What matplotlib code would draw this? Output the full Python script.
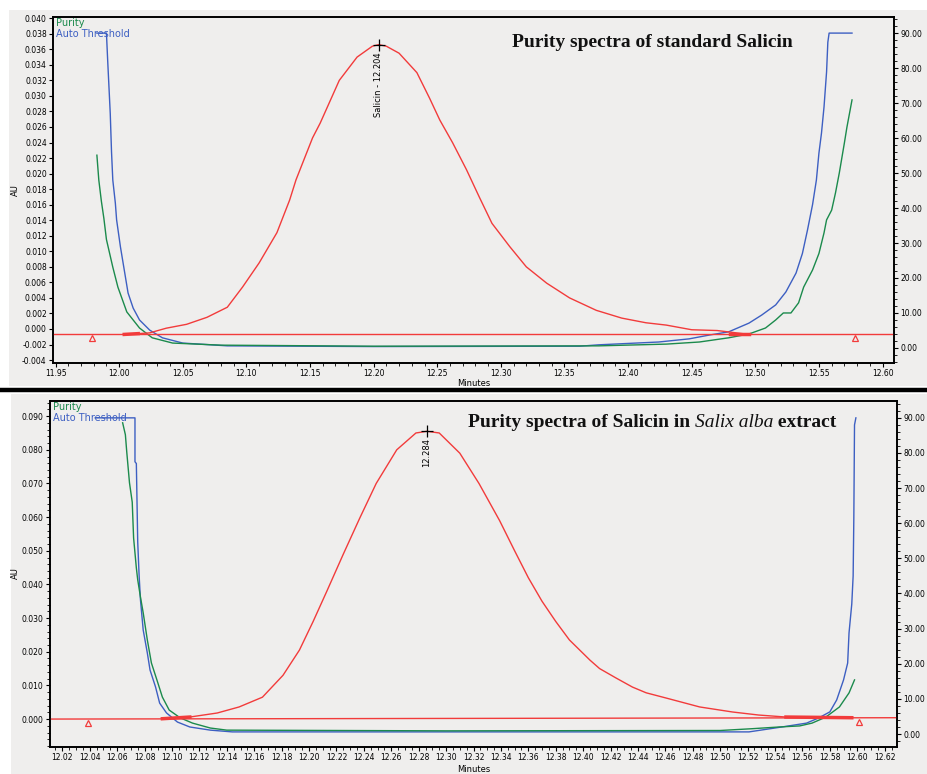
import matplotlib.pyplot as plt
from matplotlib.lines import Line2D
from matplotlib.patches import Rectangle
from matplotlib.ticker import MultipleLocator, FormatStrFormatter

# ---- top panel: standard Salicin ----
top_red_t = [12.004, 12.015, 12.024, 12.037, 12.053, 12.069, 12.085, 12.097, 12.110, 12.124,
             12.134, 12.139, 12.152, 12.158, 12.173, 12.187, 12.199, 12.204, 12.210, 12.220,
             12.234, 12.244, 12.252, 12.262, 12.273, 12.283, 12.293, 12.307, 12.320, 12.336,
             12.354, 12.375, 12.395, 12.414, 12.430, 12.450, 12.470, 12.480, 12.495]
top_red_au = [-0.0007, -0.0006, -0.0005, 0.0001, 0.0006, 0.0015, 0.0028, 0.0054, 0.0085, 0.0124,
              0.0166, 0.0192, 0.0246, 0.0265, 0.0320, 0.0350, 0.0364, 0.0366, 0.0364, 0.0355,
              0.0330, 0.0297, 0.0269, 0.0240, 0.0205, 0.0170, 0.0136, 0.0106, 0.0080, 0.0059,
              0.0040, 0.0024, 0.0014, 0.0008, 0.0005, -0.0001, -0.0002, -0.0004, -0.0007]
top_base_t = [11.948, 12.609]
top_base_au = [-0.0007, -0.0007]

top_thr_t = [11.9825, 11.990, 11.991, 11.993, 11.994, 11.995, 11.997, 11.998, 12.001, 12.004,
             12.007, 12.011, 12.016, 12.024, 12.034, 12.050, 12.085, 12.200, 12.362, 12.377,
             12.424, 12.448, 12.464, 12.479, 12.495, 12.505, 12.516, 12.524, 12.532, 12.537,
             12.541, 12.545, 12.548, 12.550, 12.552, 12.554, 12.556, 12.557, 12.558, 12.576]
top_thr = [90, 90, 82, 67, 56, 48, 41.4, 36.6, 28.9, 22.3,
           15.7, 11.4, 8.0, 5.1, 2.9, 1.4, 0.6, 0.4, 0.5, 0.9,
           1.7, 2.6, 3.7, 4.6, 7.1, 9.4, 12.3, 16.0, 21.4, 27.0,
           33.7, 41.0, 48.0, 55.7, 61.4, 68.9, 78.9, 87.4, 90, 90]

top_pur_t = [11.9825, 11.984, 11.986, 11.988, 11.990, 11.995, 11.999, 12.006, 12.016, 12.026,
             12.042, 12.080, 12.200, 12.377, 12.430, 12.456, 12.479, 12.495, 12.508, 12.516,
             12.522, 12.528, 12.534, 12.538, 12.545, 12.550, 12.554, 12.556, 12.560, 12.563,
             12.566, 12.570, 12.572, 12.576]
top_pur = [55.1, 48, 42, 37, 31, 23.1, 17.4, 10.3, 5.7, 2.9,
           1.4, 0.8, 0.5, 0.6, 1.1, 1.7, 2.9, 4.0, 5.7, 8.0,
           10.0, 10.0, 12.9, 17.4, 22.3, 27.0, 32.9, 36.6, 39.4, 44.3,
           50.0, 58.6, 63.1, 70.9]

top_tri_t = [11.979, 12.578]
top_tri_au = [-0.0012, -0.0011]
top_peak = (12.204, 0.0365)

# ---- bottom panel: Salix alba extract ----
bot_red_t = [12.093, 12.113, 12.133, 12.149, 12.166, 12.181, 12.193, 12.203, 12.213, 12.225,
             12.237, 12.249, 12.264, 12.278, 12.286, 12.295, 12.310, 12.324, 12.339, 12.350,
             12.360, 12.370, 12.380, 12.390, 12.405, 12.412, 12.424, 12.436, 12.446, 12.461,
             12.485, 12.509, 12.528, 12.548, 12.596]
bot_red_au = [0.0001, 0.0006, 0.0018, 0.0036, 0.0065, 0.0130, 0.0205, 0.0290, 0.0380, 0.0490,
              0.0597, 0.0700, 0.0800, 0.0850, 0.0855, 0.0850, 0.0790, 0.0700, 0.0590, 0.0500,
              0.0420, 0.0350, 0.0290, 0.0235, 0.0175, 0.0150, 0.0122, 0.0095, 0.0078, 0.0062,
              0.0036, 0.0021, 0.0012, 0.0006, 0.0004]
bot_base_t = [12.011, 12.629]
bot_base_au = [0.0000, 0.0004]

bot_thr_t = [12.044, 12.073, 12.073, 12.074, 12.075, 12.076, 12.077, 12.079, 12.082, 12.084,
             12.088, 12.091, 12.096, 12.104, 12.113, 12.128, 12.144, 12.300, 12.521, 12.545,
             12.563, 12.572, 12.580, 12.585, 12.590, 12.593, 12.594, 12.596, 12.597, 12.5975,
             12.598, 12.599]
bot_thr = [90, 90, 77.5, 77, 54.7, 45.3, 38.2, 29.6, 23.1, 18.2,
           13.4, 8.8, 6.0, 3.4, 2.0, 1.1, 0.6, 0.6, 0.6, 2.0,
           3.1, 4.6, 6.3, 9.7, 15.4, 20.2, 28.8, 37.0, 45.0, 61.5,
           88, 90]

bot_pur_t = [12.064, 12.066, 12.067, 12.069, 12.071, 12.072, 12.074, 12.075, 12.077, 12.079,
             12.082, 12.085, 12.089, 12.093, 12.098, 12.106, 12.115, 12.128, 12.140, 12.300,
             12.500, 12.523, 12.543, 12.558, 12.567, 12.577, 12.587, 12.594, 12.598]
bot_pur = [88.6, 85.2, 80.3, 71.5, 66, 55.8, 47.3, 43.9, 39, 34.5,
           26.8, 20.2, 15.4, 10.5, 6.8, 4.6, 3.1, 1.7, 1.1, 0.9,
           1.0, 1.5, 2.0, 2.3, 3.1, 4.8, 7.7, 11.7, 15.4]

bot_tri_t = [12.039, 12.601]
bot_tri_au = [-0.0012, -0.0009]
bot_peak = (12.286, 0.0855)

RED = '#f23b3b'
GREEN = '#1b8a4c'
BLUE = '#3d5fc2'
BG = '#efeeed'

fig = plt.figure(figsize=(9.27, 7.74), dpi=100, facecolor='white')
fig.add_artist(Rectangle((9/927, 1-386/774), 1, 376/774, transform=fig.transFigure,
                         facecolor=BG, edgecolor='none', zorder=0))
fig.add_artist(Rectangle((11/927, 0), 1, 1-394/774, transform=fig.transFigure,
                         facecolor=BG, edgecolor='none', zorder=0))
fig.add_artist(Line2D([0, 1], [1-390/774, 1-390/774], transform=fig.transFigure,
                      color='black', lw=3.2))


def style(ax, ax2):
    for a in (ax, ax2):
        for s in a.spines.values():
            s.set_linewidth(1.2)
            s.set_color('black')
        a.tick_params(which='major', labelsize=5.5, length=3, width=0.8, pad=1.5)
        a.tick_params(which='minor', length=2, width=0.6)
    ax.set_facecolor(BG)


def panel(rect, xlim, ylim, y2lim, xmaj, xmin, ymaj, ymin, yfmt,
          red_t, red_au, base_t, base_au, thr_t, thr, pur_t, pur, tri_t, tri_au,
          peak, peak_text, title_parts, title_xy):
    ax = fig.add_axes(rect)
    ax2 = ax.twinx()
    ax.set_zorder(2)
    ax.patch.set_visible(False)
    ax2.set_zorder(1)
    ax2.set_facecolor(BG)

    ax2.plot(thr_t, thr, color=BLUE, lw=1.0)
    ax2.plot(pur_t, pur, color=GREEN, lw=1.0)
    ax.plot(base_t, base_au, color=RED, lw=1.0)
    ax.plot(red_t, red_au, color=RED, lw=1.0)
    ax.plot(red_t[:2], red_au[:2], color=RED, lw=2.5)
    ax.plot(red_t[-2:], [base_au[0]] * 2 if base_au[0] == base_au[1] else red_au[-2:],
            color=RED, lw=2.5)
    ax.plot(tri_t, tri_au, linestyle='none', marker='^', ms=5, mfc='none', mec=RED, mew=0.9)
    ax.plot([peak[0]], [peak[1]], marker='+', ms=9, color='black', mew=0.9)
    ax.text(peak[0], peak[1] - (ylim[1] - ylim[0]) * 0.02, peak_text, rotation=90,
            ha='center', va='top', fontsize=6)

    ax.set_xlim(*xlim)
    ax.set_ylim(*ylim)
    ax2.set_ylim(*y2lim)
    ax.xaxis.set_major_locator(MultipleLocator(xmaj))
    ax.xaxis.set_minor_locator(MultipleLocator(xmin))
    ax.xaxis.set_major_formatter(FormatStrFormatter('%.2f'))
    ax.yaxis.set_major_locator(MultipleLocator(ymaj))
    if ymin:
        ax.yaxis.set_minor_locator(MultipleLocator(ymin))
    ax.yaxis.set_major_formatter(FormatStrFormatter(yfmt))
    ax2.yaxis.set_major_locator(MultipleLocator(10))
    ax2.yaxis.set_minor_locator(MultipleLocator(2))
    ax2.yaxis.set_major_formatter(FormatStrFormatter('%.2f'))
    style(ax, ax2)

    ax.text(0.004, 0.997, 'Purity', color=GREEN, fontsize=7, transform=ax.transAxes,
            ha='left', va='top')
    ax.text(0.004, 0.965, 'Auto Threshold', color=BLUE, fontsize=7, transform=ax.transAxes,
            ha='left', va='top')

    prev = None
    for txt, st in title_parts:
        kw = dict(fontsize=14, family='Liberation Serif',
                  weight='normal' if st == 'italic' else 'bold', style=st, color='#111111')
        if prev is None:
            prev = ax.text(title_xy[0], title_xy[1], txt, transform=ax.transAxes,
                           ha='left', va='baseline', **kw)
        else:
            prev = ax.annotate(txt, xy=(1, 0), xycoords=prev, ha='left', va='bottom', **kw)
    return ax


panel([53/927, 1-363/774, 841/927, 346/774], (11.948, 12.609), (-0.00438, 0.04016), (-4.3, 94.6),
      0.05, 0.01, 0.002, None, '%.3f',
      top_red_t, top_red_au, top_base_t, top_base_au, top_thr_t, top_thr, top_pur_t, top_pur,
      top_tri_t, top_tri_au, top_peak, 'Salicin - 12.204',
      [('Purity spectra of standard Salicin', 'normal')], (0.546, 0.913))

panel([50/927, 1-747/774, 847/927, 346/774], (12.011, 12.629), (-0.0083, 0.0945), (-3.7, 94.8),
      0.02, 0.005, 0.01, 0.002, '%.3f',
      bot_red_t, bot_red_au, bot_base_t, bot_base_au, bot_thr_t, bot_thr, bot_pur_t, bot_pur,
      bot_tri_t, bot_tri_au, bot_peak, '12.284',
      [('Purity spectra of Salicin in ', 'normal'), ('Salix alba', 'italic'),
       (' extract', 'normal')], (0.4935, 0.925))

fig.text(474/927, 1-383/774, 'Minutes', fontsize=6, ha='center', va='center')
fig.text(474/927, 1-770/774, 'Minutes', fontsize=6, ha='center', va='center')
fig.text(15/927, 1-190/774, 'AU', fontsize=6, rotation=90, ha='center', va='center')
fig.text(15/927, 1-573/774, 'AU', fontsize=6, rotation=90, ha='center', va='center')

fig.savefig('out.png', dpi=100, facecolor='white')
